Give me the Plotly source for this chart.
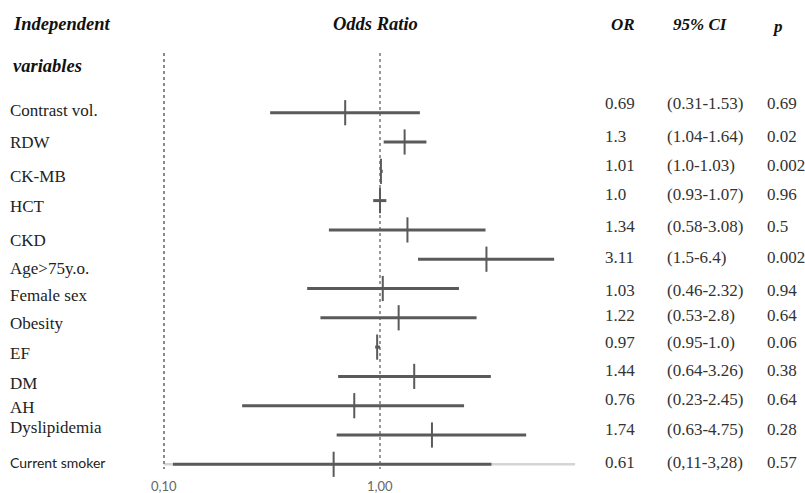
import math
import plotly.graph_objects as go

# ---------------- data ----------------
variables = ["Contrast vol.", "RDW", "CK-MB", "HCT", "CKD", "Age>75y.o.", "Female sex",
             "Obesity", "EF", "DM", "AH", "Dyslipidemia", "Current smoker"]
odds_ratio = [0.69, 1.3, 1.01, 1.0, 1.34, 3.11, 1.03, 1.22, 0.97, 1.44, 0.76, 1.74, 0.61]
ci_low = [0.31, 1.04, 1.0, 0.93, 0.58, 1.5, 0.46, 0.53, 0.95, 0.64, 0.23, 0.63, 0.11]
ci_high = [1.53, 1.64, 1.03, 1.07, 3.08, 6.4, 2.32, 2.8, 1.0, 3.26, 2.45, 4.75, 3.28]
or_text = ["0.69", "1.3", "1.01", "1.0", "1.34", "3.11", "1.03", "1.22", "0.97", "1.44", "0.76", "1.74", "0.61"]
ci_text = ["(0.31-1.53)", "(1.04-1.64)", "(1.0-1.03)", "(0.93-1.07)", "(0.58-3.08)", "(1.5-6.4)",
           "(0.46-2.32)", "(0.53-2.8)", "(0.95-1.0)", "(0.64-3.26)", "(0.23-2.45)", "(0.63-4.75)",
           "(0,11-3,28)"]
p_text = ["0.69", "0.02", "0.002", "0.96", "0.5", "0.002", "0.94", "0.64", "0.06", "0.38", "0.64", "0.28", "0.57"]
tick_values = [0.1, 1.0]
tick_labels = ["0,10", "1,00"]
ref_lines = [0.1, 1.0]
axis_end = 8.0

# ---------------- layout helpers ----------------
W, H = 805, 493
ROW0_PX, ROW_STEP = 112.7, 29.3
X0_PX, DECADE_PX = 164.0, 216.0
x_range = [-1 - X0_PX / DECADE_PX, -1 + (W - X0_PX) / DECADE_PX]
y_range = [(H - ROW0_PX) / ROW_STEP, -ROW0_PX / ROW_STEP]


def py(px):  # pixel (top-down) -> paper y
    return 1 - px / H


def px_to_row(px):
    return (px - ROW0_PX) / ROW_STEP


def pxx(px):
    return px / W


rows = list(range(len(variables)))
LINE_COL = "#5a5a5a"
SERIF = "Liberation Serif, Times New Roman, serif"
SANS = "Lato, Liberation Sans, sans-serif"

fig = go.Figure()

# bottom axis line
fig.add_trace(go.Scatter(x=[tick_values[0], axis_end], y=[rows[-1], rows[-1]], mode="lines",
                         line=dict(color="#d4d4d4", width=2.5), hoverinfo="skip", showlegend=False))

# reference dotted lines
for i, v in enumerate(ref_lines):
    fig.add_trace(go.Scatter(x=[v, v], y=[px_to_row(53), px_to_row(469)], mode="lines",
                             line=dict(color="#8a8a8a" if i == 0 else "#555555",
                                       width=2 if i == 0 else 1.2, dash="dot"),
                             hoverinfo="skip", showlegend=False))

# CI lines
for r, lo, hi in zip(rows, ci_low, ci_high):
    fig.add_trace(go.Scatter(x=[lo, hi], y=[r, r], mode="lines",
                             line=dict(color=LINE_COL, width=3), hoverinfo="skip", showlegend=False))

# OR ticks
fig.add_trace(go.Scatter(x=odds_ratio, y=rows, mode="markers",
                         marker=dict(symbol="line-ns", size=18, line=dict(color=LINE_COL, width=2)),
                         showlegend=False))

ann = []
# headers
ann.append(dict(text="<b><i>Independent</i></b>", x=pxx(11), y=py(24), xanchor="left", size=18.5))
ann.append(dict(text="<b><i>variables</i></b>", x=pxx(11), y=py(66), xanchor="left", size=18.5))
ann.append(dict(text="<b><i>Odds Ratio</i></b>", x=pxx(375), y=py(24), xanchor="center", size=18.5))
ann.append(dict(text="<b><i>OR</i></b>", x=pxx(623), y=py(24), xanchor="center", size=17))
ann.append(dict(text="<b><i>95% CI</i></b>", x=pxx(700), y=py(24), xanchor="center", size=17))
ann.append(dict(text="<b><i>p</i></b>", x=pxx(777), y=py(27), xanchor="center", size=17))

label_px = [110.7, 143, 176, 207, 240, 268, 295, 323, 353, 383, 407, 427, 462]
value_px = [103, 137, 166, 194, 226, 257, 290, 315, 342, 370, 399, 429, 462]

annotations = []
for a in ann:
    annotations.append(dict(text=a["text"], x=a["x"], y=a["y"], xref="paper", yref="paper",
                            xanchor=a["xanchor"], yanchor="middle", showarrow=False,
                            font=dict(family=SERIF, size=a["size"], color="#111111")))

for name, lp in zip(variables, label_px):
    sans = name == "Current smoker"
    annotations.append(dict(text=name, x=pxx(8), y=py(lp), xref="paper", yref="paper",
                            xanchor="left", yanchor="middle", showarrow=False,
                            font=dict(family=SANS if sans else SERIF,
                                      size=14 if sans else 17, color="#222222")))

for o, c, p, vp in zip(or_text, ci_text, p_text, value_px):
    for t, xx in ((o, 603), (c, 665), (p, 765)):
        annotations.append(dict(text=t, x=pxx(xx), y=py(vp), xref="paper", yref="paper",
                                xanchor="left", yanchor="middle", showarrow=False,
                                font=dict(family=SERIF, size=17, color="#333333")))

for tv, tl in zip(tick_values, tick_labels):
    annotations.append(dict(text=tl, x=math.log10(tv), y=py(485.5), xref="x", yref="paper",
                            xanchor="center", yanchor="middle", showarrow=False,
                            font=dict(family=SANS, size=13, color="#666666")))

fig.update_layout(
    width=W, height=H, margin=dict(l=0, r=0, t=0, b=0),
    paper_bgcolor="white", plot_bgcolor="white",
    xaxis=dict(type="log", range=x_range, visible=False, fixedrange=True),
    yaxis=dict(range=y_range, visible=False, fixedrange=True),
    annotations=annotations, showlegend=False,
)

fig.write_html("out.html", config={"displayModeBar": False},
               post_script="document.body.style.margin='0';document.body.style.overflow='hidden';")
